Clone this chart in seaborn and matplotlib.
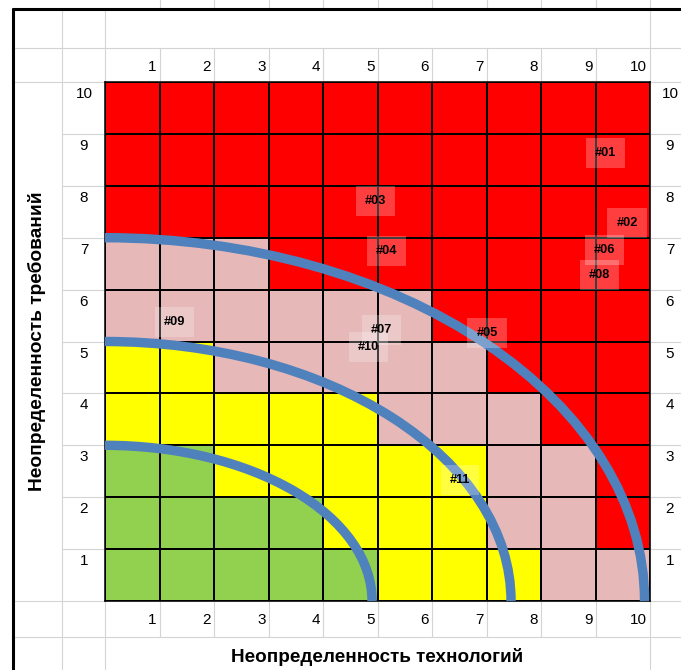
import numpy as np
import matplotlib
matplotlib.use('Agg')
import matplotlib.pyplot as plt
from matplotlib.colors import ListedColormap
from matplotlib.lines import Line2D
from matplotlib.patches import Arc
import seaborn as sns

# zone of every cell, top row (requirements = 10) first
# 0 = green, 1 = yellow, 2 = pink, 3 = red
zones = [
    [3, 3, 3, 3, 3, 3, 3, 3, 3, 3],
    [3, 3, 3, 3, 3, 3, 3, 3, 3, 3],
    [3, 3, 3, 3, 3, 3, 3, 3, 3, 3],
    [2, 2, 2, 3, 3, 3, 3, 3, 3, 3],
    [2, 2, 2, 2, 2, 2, 3, 3, 3, 3],
    [1, 1, 2, 2, 2, 2, 2, 3, 3, 3],
    [1, 1, 1, 1, 1, 2, 2, 2, 3, 3],
    [0, 0, 1, 1, 1, 1, 1, 2, 2, 3],
    [0, 0, 0, 0, 1, 1, 1, 2, 2, 3],
    [0, 0, 0, 0, 0, 1, 1, 1, 2, 2],
]
zone_colors = ['#92D050', '#FFFF00', '#E6B8B7', '#FF0000']

tech_ticks = [1, 2, 3, 4, 5, 6, 7, 8, 9, 10]
req_ticks = [1, 2, 3, 4, 5, 6, 7, 8, 9, 10]

# boundary arcs (quarter ellipses from the origin)
arc_tech = [4.9, 7.45, 9.9]
arc_req = [3.0, 5.0, 7.0]

# risks
risk_ids = ['#01', '#02', '#03', '#04', '#05', '#06', '#07', '#08', '#09', '#10', '#11']
risk_tech = [9.19, 9.58, 4.97, 5.16, 7.01, 9.17, 5.08, 9.08, 1.27, 4.83, 6.51]
risk_req = [8.63, 7.28, 7.70, 6.74, 5.16, 6.76, 5.22, 6.28, 5.38, 4.89, 2.33]

x_title = 'Неопределенность технологий'
y_title = 'Неопределенность требований'

# layout in pixels (sheet-like frame)
W, H, DPI = 681, 670, 100
G_LEFT, G_RIGHT, G_TOP, G_BOTTOM = 105, 650, 82, 601
GRAY = '#D4D4D4'


def fx(px):
    return px / W


def fy(py):
    return 1 - py / H


def sheet_line(fig, x0, y0, x1, y1, color=GRAY, lw=0.8):
    fig.add_artist(Line2D([fx(x0), fx(x1)], [fy(y0), fy(y1)],
                          transform=fig.transFigure, color=color, lw=lw, zorder=0))


def main():
    sns.set_theme(style='white')
    plt.rcParams['font.family'] = ['Liberation Sans', 'DejaVu Sans']
    plt.rcParams['text.color'] = 'black'

    fig = plt.figure(figsize=(W / DPI, H / DPI), dpi=DPI)
    fig.patch.set_facecolor('white')

    # spreadsheet frame
    cell_w = (G_RIGHT - G_LEFT) / 10
    cell_h = (G_BOTTOM - G_TOP) / 10
    for k in range(1, 10):
        x = G_LEFT + k * cell_w
        sheet_line(fig, x, 0, x, 9)
        sheet_line(fig, x, 48, x, 637)
    for x in (62, G_LEFT):
        sheet_line(fig, x, 9, x, H)
    sheet_line(fig, G_RIGHT, 0, G_RIGHT, H)
    for y in (48, G_BOTTOM, 637):
        sheet_line(fig, 13, y, W, y)
    sheet_line(fig, 13, G_TOP, G_LEFT, G_TOP)
    sheet_line(fig, G_RIGHT, G_TOP, W, G_TOP)
    for k in range(1, 10):
        y = G_TOP + k * cell_h
        sheet_line(fig, 62, y, G_LEFT, y)
        sheet_line(fig, G_RIGHT, y, W, y)
    sheet_line(fig, 13, 9, W, 9, color='black', lw=2.2)
    sheet_line(fig, 13, 9, 13, H, color='black', lw=2.2)

    ax = fig.add_axes([fx(G_LEFT), fy(G_BOTTOM), fx(G_RIGHT - G_LEFT),
                       (G_BOTTOM - G_TOP) / H])
    sns.heatmap(np.flipud(np.array(zones)), ax=ax, cmap=ListedColormap(zone_colors),
                vmin=-0.5, vmax=3.5, cbar=False, linewidths=1.1, linecolor='black',
                xticklabels=False, yticklabels=False)
    ax.set_xlim(0, 10)
    ax.set_ylim(0, 10)
    for s in ax.spines.values():
        s.set_visible(True)
        s.set_color('black')
        s.set_linewidth(1.1)

    # boundary arcs
    for a, b in zip(arc_tech, arc_req):
        ax.add_patch(Arc((0, 0), 2 * a, 2 * b, theta1=0, theta2=90,
                         color='#4F81BD', lw=6.8, clip_on=False, zorder=5))

    # risk labels
    for rid, tx, rq in zip(risk_ids, risk_tech, risk_req):
        ax.text(tx, rq, rid, fontsize=9.2, fontweight='bold', ha='center', va='center',
                color='black', zorder=6,
                bbox=dict(boxstyle='square,pad=0.7', fc='white', ec='none', alpha=0.25))

    # column / row numbers like spreadsheet cells
    for t in tech_ticks:
        ax.annotate(str(t), xy=(t, 1), xycoords=('data', 'axes fraction'),
                    xytext=(-3, 15), textcoords='offset pixels',
                    ha='right', va='center', fontsize=11, color='black')
        ax.annotate(str(t), xy=(t, 0), xycoords=('data', 'axes fraction'),
                    xytext=(-3, -19), textcoords='offset pixels',
                    ha='right', va='center', fontsize=11, color='black')
    for r in req_ticks:
        ax.annotate(str(r), xy=(0, r), xycoords=('axes fraction', 'data'),
                    xytext=(-21, -12), textcoords='offset pixels',
                    ha='center', va='center', fontsize=11, color='black')
        ax.annotate(str(r), xy=(1, r), xycoords=('axes fraction', 'data'),
                    xytext=(20, -12), textcoords='offset pixels',
                    ha='center', va='center', fontsize=11, color='black')

    fig.text(fx((G_LEFT + G_RIGHT) / 2), fy(657), x_title, fontsize=13.6,
             fontweight='bold', ha='center', va='center', color='black')
    fig.text(fx(37), fy((G_TOP + G_BOTTOM) / 2), y_title, fontsize=13.8,
             fontweight='bold', ha='center', va='center', rotation=90, color='black')

    fig.savefig('out.png', dpi=DPI)
    plt.close(fig)


if __name__ == '__main__':
    main()
